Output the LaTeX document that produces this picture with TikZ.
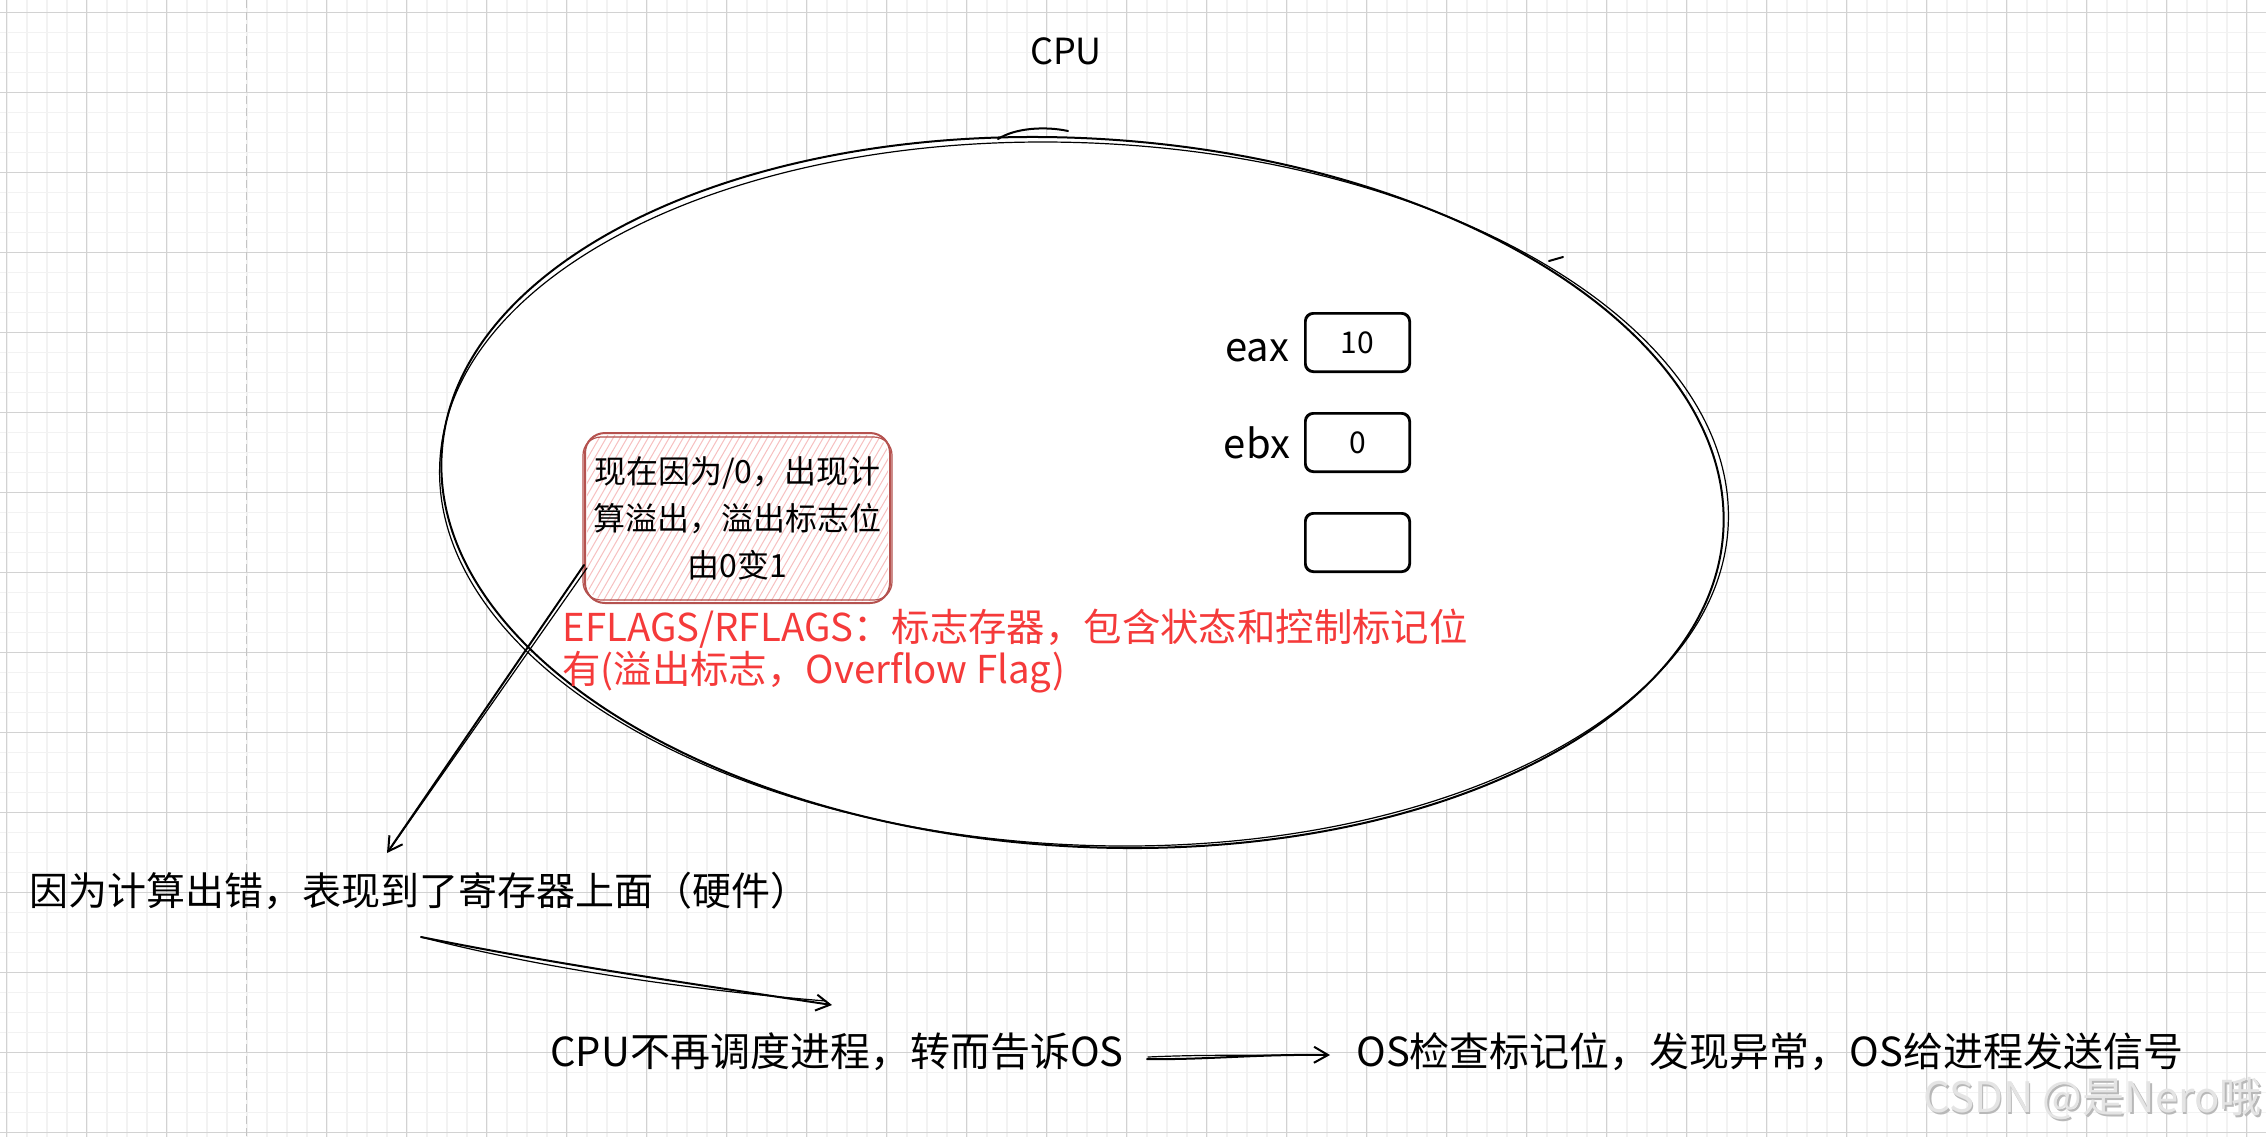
\documentclass[tikz,border=0pt]{standalone}
\usepackage{fontspec}
\setmainfont{Noto Sans CJK SC}
\usetikzlibrary{arrows.meta}
\definecolor{gminor}{HTML}{F2F2F2}
\definecolor{gmajor}{HTML}{D2D2D2}
\definecolor{gdash}{HTML}{C4C4C4}
\definecolor{boxred}{HTML}{B5524F}
\definecolor{hatchred}{HTML}{F7C0C0}
\definecolor{txtred}{HTML}{F53A3A}
\definecolor{wmgray}{HTML}{E4E4E4}
\definecolor{wmshadow}{HTML}{B8B8B8}
\begin{document}
\begin{tikzpicture}[x=0.5pt,y=-0.5pt,
  sk/.style={line width=1pt,line cap=round,line join=round},
  skthin/.style={line width=0.6pt,line cap=round,line join=round},
  arr/.style={sk,-{Straight Barb[length=7pt,width=8pt,line width=1pt]}},
  lbl/.style={inner sep=0pt,anchor=west},
  big/.style={font=\fontsize{19.5pt}{24pt}\selectfont},
  reg/.style={draw,sk,rounded corners=4pt,minimum width=52.5pt,minimum height=29.5pt,inner sep=0pt,font=\fontsize{15pt}{18pt}\selectfont},
  reglbl/.style={inner sep=0pt,font=\fontsize{20pt}{24pt}\selectfont},
  redtxt/.style={lbl,text=txtred,font=\fontsize{19.2pt}{22pt}\selectfont},
  ]
\useasboundingbox (0,0) rectangle (2266,1137);
\fill[white] (0,0) rectangle (2266,1137);
% grid
\foreach \i in {0,...,113} \draw[gminor,line width=0.8pt] ({6.7+20*\i},0) -- ({6.7+20*\i},1137);
\foreach \j in {0,...,56} \draw[gminor,line width=0.8pt] (0,{12.3+20*\j}) -- (2266,{12.3+20*\j});
\foreach \i in {0,1,2} \draw[gmajor,line width=0.45pt] ({6.7+80*\i},0) -- ({6.7+80*\i},1137);
\foreach \i in {4,...,28} \draw[gmajor,line width=0.45pt] ({6.7+80*\i},0) -- ({6.7+80*\i},1137);
\foreach \j in {0,...,14} \draw[gmajor,line width=0.45pt] (0,{12.3+80*\j}) -- (2266,{12.3+80*\j});
\draw[gdash,line width=0.7pt,dash pattern=on 4pt off 2pt] (246.7,0) -- (246.7,1137);

% CPU ellipse
\fill[white,rotate around={-3.5:(1082.5,492.5)}] (1082.5,492.5) ellipse [x radius=642, y radius=354];
\draw[sk,rotate around={-3.5:(1082.5,492.5)}] (1082.5,492.5) ellipse [x radius=642, y radius=354];
\draw[skthin,rotate around={-2.8:(1084,494)}] (1084,494) ellipse [x radius=645, y radius=351];
\draw[sk] (998,139) .. controls (1015,128) and (1045,126) .. (1068,131);
\draw[sk] (1549,261) -- (1563,257);

\node[inner sep=0pt,font=\fontsize{18pt}{22pt}\selectfont] (cpu) at (1066,51) {CPU};

% registers
\node[reglbl] (eax) at (1257,351) {eax};
\node[reglbl] (ebx) at (1257,443) {ebx};
\node[reg] (r1) at (1357.5,342.5) {10};
\node[reg] (r2) at (1357.5,442.5) {0};
\node[reg] (r3) at (1357.5,542.5) {};
\foreach \r in {r1,r2,r3}
  \draw[skthin,rounded corners=4pt] ([shift={(2,-2)}]\r.south west) rectangle ([shift={(-2,2)}]\r.north east);

% flag box with hachure
\begin{scope}
\clip[rounded corners=10pt] (587,435) rectangle (888,601);
\foreach \k in {0,...,58} \draw[hatchred,line width=0.5pt] ({490+7*\k},603) -- ++(98,-170);
\end{scope}
\node[draw=boxred,sk,rounded corners=10pt,minimum width=152.5pt,minimum height=85pt,inner sep=0pt,align=center,font=\fontsize{16pt}{23.5pt}\selectfont] (flag) at (737.5,518) {现在因为/0，出现计\\算溢出，溢出标志位\\由0变1};
\draw[boxred,skthin,rounded corners=9pt] (583,437) rectangle (892,600);

\node[redtxt] (fl1) at (562,629) {EFLAGS/RFLAGS：标志存器，包含状态和控制标记位};
\node[redtxt] (fl2) at (562,672) {有(溢出标志，Overflow Flag)};

% bottom texts
\node[lbl,big] (t1) at (29,891) {因为计算出错，表现到了寄存器上面（硬件）};
\node[lbl,big,font=\fontsize{20pt}{24pt}\selectfont] (t2) at (550,1052) {CPU不再调度进程，转而告诉OS};
\node[lbl,big,font=\fontsize{20pt}{24pt}\selectfont] (t3) at (1356,1052) {OS检查标记位，发现异常，OS给进程发送信号};

% arrows
\coordinate (a1e) at (387,853);
\coordinate (a1b) at (390,849);
\draw[arr] ([yshift=19.5pt]flag.south west) -- (a1e);
\draw[skthin] ([shift={(1.5pt,18pt)}]flag.south west) -- (a1b);
\coordinate (a2s) at (421,937);
\coordinate (a2e) at (832,1005);
\coordinate (a2b) at (826,1001);
\draw[arr] (a2s) .. controls (560,965) and (700,985) .. (a2e);
\draw[skthin] (a2s) .. controls (540,968) and (690,990) .. (a2b);
\draw[arr] ([shift={(11.5pt,-3.5pt)}]t2.east) .. controls ([shift={(40pt,-4pt)}]t2.east) and ([shift={(-50pt,-1pt)}]t3.west) .. ([shift={(-13pt,-1.5pt)}]t3.west);
\draw[skthin] ([shift={(12pt,-2.5pt)}]t2.east) .. controls ([shift={(45pt,-1pt)}]t2.east) and ([shift={(-45pt,-2pt)}]t3.west) .. ([shift={(-14pt,-1.5pt)}]t3.west);

% watermark
\node[anchor=east,inner sep=0pt,text=wmshadow,font=\fontsize{21pt}{24pt}\selectfont] (wms) at (2263.5,1100.5) {CSDN @是Nero哦};
\node[anchor=east,inner sep=0pt,text=wmgray,font=\fontsize{21pt}{24pt}\selectfont] (wm) at (2262,1099) {CSDN @是Nero哦};
\end{tikzpicture}
\end{document}
